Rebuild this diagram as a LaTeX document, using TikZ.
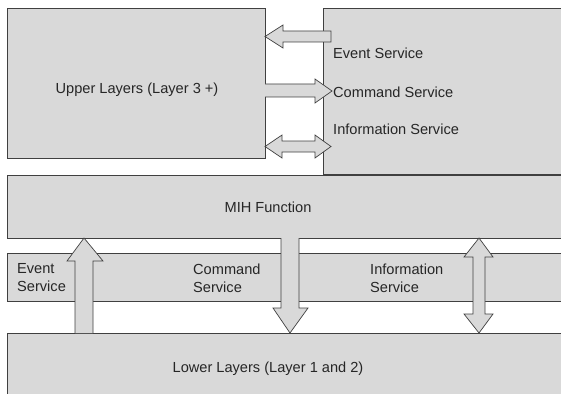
\documentclass[tikz,border=0pt]{standalone}
\usepackage{fontspec}
\setmainfont{Liberation Sans}
\definecolor{boxfill}{HTML}{D9D9D9}
\definecolor{edge}{HTML}{404040}
\begin{document}
\begin{tikzpicture}[x=1pt,y=-1pt,
  layerbox/.style={fill=boxfill,draw=edge,line width=0.9pt},
  blockarrow/.style={fill=boxfill,draw=edge,line width=0.7pt,line join=miter},
  lbl/.style={font=\fontsize{14.6}{18}\selectfont,text=black!85,inner sep=0pt}]
\clip (0,0) rectangle (561,393);
% boxes
\draw[layerbox] (323,8) rectangle (570,174);
\draw[layerbox] (7,8) rectangle (265,158);
\draw[layerbox] (7,175) rectangle (570,238);
\draw[layerbox] (7,253) rectangle (570,301);
\draw[layerbox] (7,333) rectangle (570,400);
% labels
\node[lbl] (upper) at (137,90) {Upper Layers (Layer 3 +)};
\node[lbl,anchor=west] (evt) at (333,53) {Event Service};
\node[lbl,anchor=west] (cmd) at (333,92) {Command Service};
\node[lbl,anchor=west] (inf) at (333,129) {Information Service};
\node[lbl] (mih) at (268,207) {MIH Function};
\node[lbl] (lower) at (268,369) {Lower Layers (Layer 1 and 2)};
\node[lbl,anchor=north west,align=left] (evt2) at (17,263.5) {Event\\Service};
\node[lbl,anchor=north west,align=left] (cmd2) at (193,263.5) {Command\\Service};
\node[lbl,anchor=north west,align=left] (inf2) at (370,263.5) {Information\\Service};
% horizontal arrows (top)
\draw[blockarrow] (331,31) -- (283,31) -- (283,25) -- (265,36.5) -- (283,48) -- (283,42) -- (331,42) -- cycle;
\draw[blockarrow] (265,84) -- (315,84) -- (315,79) -- (332,91) -- (315,103) -- (315,97) -- (265,97);
\draw[blockarrow] (265,146.5) -- (282,135) -- (282,141) -- (315,141) -- (315,135) -- (331,146.5) -- (315,158) -- (315,152) -- (282,152) -- (282,158) -- cycle;
% vertical arrows (bottom)
\draw[blockarrow] (75,333) -- (75,261) -- (67,261) -- (84,238) -- (103,261) -- (93,261) -- (93,333);
\draw[blockarrow] (281,238) -- (281,308) -- (273,308) -- (290,333) -- (308,308) -- (299,308) -- (299,238);
\draw[blockarrow] (479,238) -- (493,257) -- (485,257) -- (485,314) -- (493,314) -- (479,333) -- (464,314) -- (473,314) -- (473,257) -- (464,257) -- cycle;
\end{tikzpicture}
\end{document}
